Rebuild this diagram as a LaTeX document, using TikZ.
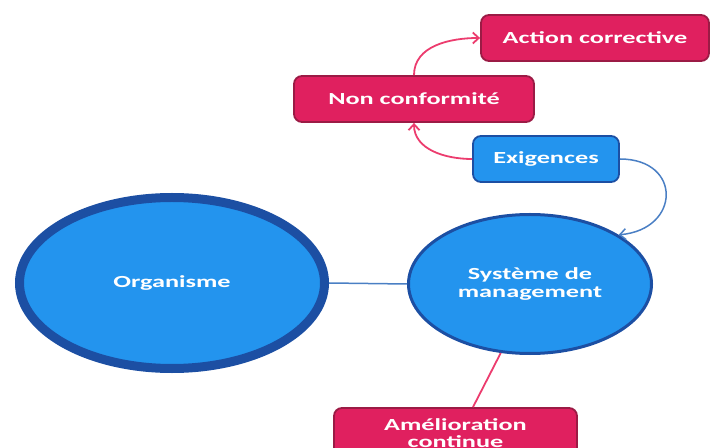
\documentclass[tikz,border=0pt]{standalone}
\usepackage{fontspec}
\newfontfamily\lbl{Carlito}[FakeStretch=1.55]
\usetikzlibrary{shapes.geometric,arrows.meta}
\definecolor{pinkfill}{HTML}{E0205F}
\definecolor{pinkedge}{HTML}{9B1B45}
\definecolor{pinkline}{HTML}{EC3C6E}
\definecolor{bluefill}{HTML}{2394EE}
\definecolor{blueedge}{HTML}{1C4FA3}
\definecolor{blueline}{HTML}{4A7FC4}
\tikzset{
  txt/.style={text=white, font=\lbl\bfseries\fontsize{17}{17.5}\selectfont, align=center},
  pinkbox/.style={txt, rectangle, rounded corners=8bp, fill=pinkfill, draw=pinkedge, line width=1.8bp, inner sep=0pt},
  bluebox/.style={txt, rectangle, rounded corners=8bp, fill=bluefill, draw=blueedge, line width=1.8bp, inner sep=0pt},
  blueell/.style={txt, ellipse, fill=bluefill, draw=blueedge, inner sep=0pt},
  pinkarrow/.style={draw=pinkline, line width=1.8bp, -{Straight Barb[length=6bp,width=11bp]}},
  bluearrow/.style={draw=blueline, line width=1.5bp, -{Straight Barb[length=6bp,width=11bp]}},
}
\begin{document}
\begin{tikzpicture}[x=1bp,y=-1bp]
\useasboundingbox (0,0) rectangle (713,448);
% boxes
\node[pinkbox, minimum width=228bp, minimum height=46bp] (ac) at (595,38) {Action corrective};
\node[pinkbox, minimum width=240bp, minimum height=46bp] (nc) at (414,99) {Non conformité};
\node[bluebox, minimum width=146bp, minimum height=46bp] (ex) at (546,159) {Exigences};
\node[pinkbox, minimum width=243bp, minimum height=50bp] (am) at (455.5,433) {Amélioration\\continue};
% circles
\node[blueell, line width=9bp, minimum width=305bp, minimum height=171bp] (org) at (172,283) {Organisme};
\node[blueell, line width=3bp, minimum width=243bp, minimum height=139bp] (sys) at (530,284) {Système de\\management};
% connectors
\draw[blueline, line width=1.5bp] (org.east) -- (sys.west);
\draw[pinkline, line width=1.8bp] (sys.-113) -- (am.north -| 473,0);
\draw[pinkarrow] (ex.west) to[out=180,in=-90] (nc.south);
\draw[pinkarrow] (nc.north) to[out=90,in=180] (ac.west);
\draw[bluearrow] (ex.east) to[out=0,in=5,looseness=2.1] (sys.29);
\end{tikzpicture}
\end{document}
